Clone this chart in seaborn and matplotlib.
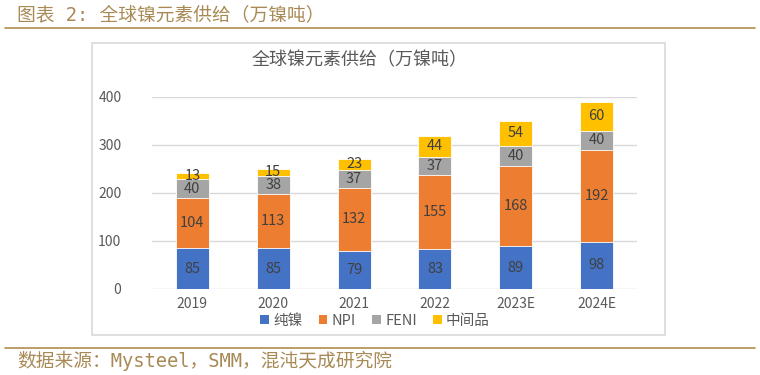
import matplotlib
matplotlib.use("Agg")
import matplotlib.pyplot as plt
import seaborn as sns
import pandas as pd
import numpy as np
from matplotlib.patches import Rectangle
from matplotlib.lines import Line2D

years = ["2019", "2020", "2021", "2022", "2023E", "2024E"]
pure_ni = [85, 85, 79, 83, 89, 98]
npi = [104, 113, 132, 155, 168, 192]
feni = [40, 38, 37, 37, 40, 40]
intermediate = [13, 15, 23, 44, 54, 60]
series_names = ["纯镍", "NPI", "FENI", "中间品"]
colors = ["#4472C4", "#ED7D31", "#A5A5A5", "#FFC000"]

sns.set_theme(style="white")
plt.rcParams["font.family"] = ["Noto Sans CJK SC", "DejaVu Sans"]

fig = plt.figure(figsize=(7.6, 3.75), dpi=100)
ax = fig.add_axes([152/760, 1-289/375, (637-152)/760, (289-97)/375])

data = np.array([pure_ni, npi, feni, intermediate], dtype=float)
cum = np.cumsum(data, axis=0)

for i in range(3, -1, -1):
    df = pd.DataFrame({"year": years, "val": cum[i]})
    sns.barplot(data=df, x="year", y="val", color=colors[i], width=0.41,
                saturation=1, ax=ax, edgecolor="white", linewidth=0.6, zorder=3)

for i in range(4):
    for j in range(len(years)):
        mid = cum[i][j] - data[i][j] / 2
        ax.text(j, mid, f"{int(data[i][j])}", ha="center", va="center",
                fontsize=10.5, color="#404040", zorder=5)

ax.set_xlim(-0.5, 5.5)
ax.set_ylim(0, 400)
ax.set_yticks([0, 100, 200, 300, 400])
ax.yaxis.grid(True, color="#D9D9D9", linewidth=1, zorder=0)
ax.set_axisbelow(True)
for s in ["top", "right", "left", "bottom"]:
    ax.spines[s].set_visible(False)
ax.set_xlabel("")
ax.set_ylabel("")
ax.tick_params(axis="both", length=0, labelsize=10, labelcolor="#595959")
ax.tick_params(axis="y", pad=22)
ax.tick_params(axis="x", pad=6)

# chart box
fig.patches.append(Rectangle((92/760, 1-335/375), (665-92)/760, (335-43)/375,
                             transform=fig.transFigure, fill=False,
                             edgecolor="#D9D9D9", linewidth=1.2))

fig.text(360/760, 1-60/375, "全球镍元素供给（万镍吨）", ha="center", va="center",
         fontsize=13, color="#595959")

handles = [Rectangle((0, 0), 1, 1, facecolor=c, edgecolor="none") for c in colors]
leg = fig.legend(handles, series_names, loc="center", bbox_to_anchor=(375/760, 1-321/375),
                 ncol=4, frameon=False, fontsize=10.5, handlelength=0.6, handleheight=0.6,
                 handletextpad=0.3, columnspacing=1.1, labelcolor="#595959")

gold = "#B08D4A"
txt_gold = "#A88A55"
fig.text(17/760, 1-15/375, "图表 2: 全球镍元素供给（万镍吨）", ha="left", va="center",
         fontsize=13.5, color=txt_gold, family=["DejaVu Sans Mono", "Noto Sans CJK SC"])
fig.add_artist(Line2D([5/760, 755/760], [1-28/375, 1-28/375], color=gold, linewidth=1.2))
fig.add_artist(Line2D([5/760, 755/760], [1-348/375, 1-348/375], color=gold, linewidth=1.2))
fig.text(17/760, 1-361/375, "数据来源：Mysteel，SMM，混沌天成研究院", ha="left", va="center",
         fontsize=13.5, color=txt_gold, family=["DejaVu Sans Mono", "Noto Sans CJK SC"])

fig.savefig("out.png", dpi=100)
